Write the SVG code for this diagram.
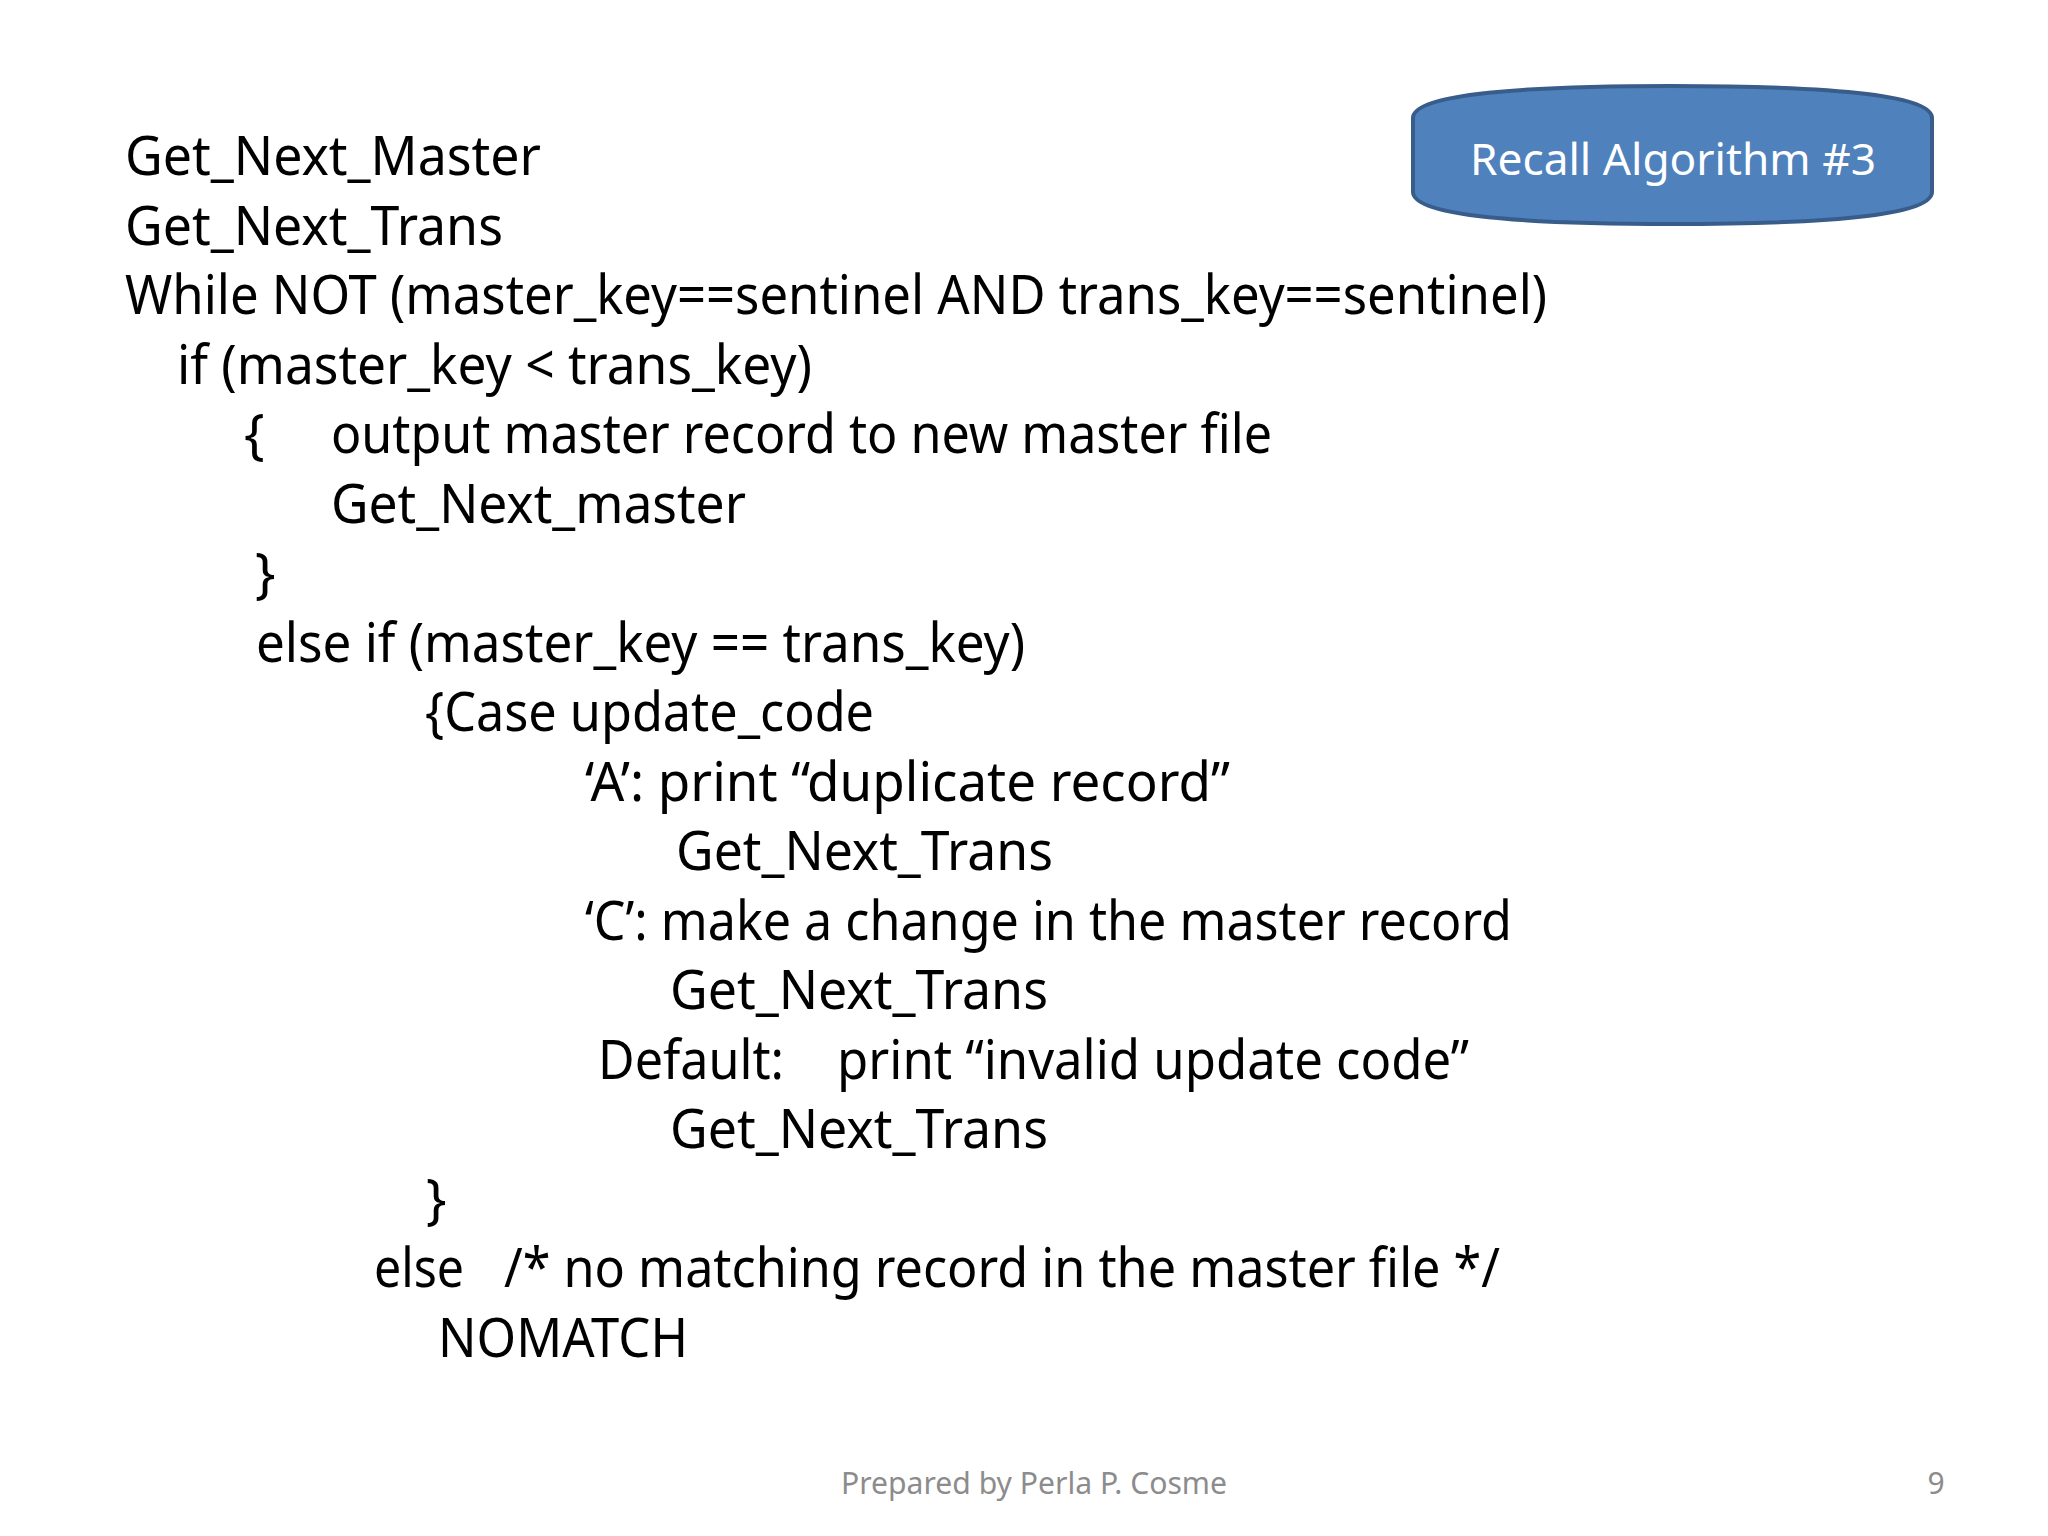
<svg xmlns="http://www.w3.org/2000/svg" width="2048" height="1536" viewBox="0 0 2048 1536">
<style>
.t{font-family:"Noto Sans","Open Sans",sans-serif;font-size:54px;fill:#000}
.b{font-family:"Noto Sans","Open Sans",sans-serif;font-size:44px;fill:#fff}
.f{font-family:"Noto Sans","Open Sans",sans-serif;font-size:30px;fill:#8c8c8c}
</style>
<rect width="2048" height="1536" fill="#fff"/>
<g id="recall">
<path d="M1413,118 Q1413,86 1672,86 Q1932,86 1932,118 V192 Q1932,224 1672,224 Q1413,224 1413,192 Z" fill="#4F81BD" stroke="#385D8A" stroke-width="4"/>
<text class="b" x="1470" y="175" textLength="406" lengthAdjust="spacingAndGlyphs">Recall Algorithm #3</text>
</g>
<g id="code">
<text class="t" x="125" y="175" textLength="416" lengthAdjust="spacingAndGlyphs">Get_Next_Master</text>
<text class="t" x="125" y="245" textLength="378" lengthAdjust="spacingAndGlyphs">Get_Next_Trans</text>
<text class="t" x="125" y="314" textLength="1422" lengthAdjust="spacingAndGlyphs">While NOT (master_key==sentinel AND trans_key==sentinel)</text>
<text class="t" x="177" y="384" textLength="635" lengthAdjust="spacingAndGlyphs">if (master_key &lt; trans_key)</text>
<text class="t" x="244" y="453">{</text>
<text class="t" x="331" y="453" textLength="941" lengthAdjust="spacingAndGlyphs">output master record to new master file</text>
<text class="t" x="331" y="523" textLength="415" lengthAdjust="spacingAndGlyphs">Get_Next_master</text>
<text class="t" x="255" y="592">}</text>
<text class="t" x="256" y="662" textLength="769" lengthAdjust="spacingAndGlyphs">else if (master_key == trans_key)</text>
<text class="t" x="425" y="731" textLength="449" lengthAdjust="spacingAndGlyphs">{Case update_code</text>
<text class="t" x="585" y="801" textLength="645" lengthAdjust="spacingAndGlyphs">‘A’: print “duplicate record”</text>
<text class="t" x="676" y="870" textLength="377" lengthAdjust="spacingAndGlyphs">Get_Next_Trans</text>
<text class="t" x="585" y="940" textLength="927" lengthAdjust="spacingAndGlyphs">‘C’: make a change in the master record</text>
<text class="t" x="670" y="1009" textLength="378" lengthAdjust="spacingAndGlyphs">Get_Next_Trans</text>
<text class="t" x="598" y="1079" textLength="186" lengthAdjust="spacingAndGlyphs">Default:</text>
<text class="t" x="837" y="1079" textLength="632" lengthAdjust="spacingAndGlyphs">print “invalid update code”</text>
<text class="t" x="670" y="1148" textLength="378" lengthAdjust="spacingAndGlyphs">Get_Next_Trans</text>
<text class="t" x="426" y="1218">}</text>
<text class="t" x="374" y="1287" textLength="90" lengthAdjust="spacingAndGlyphs">else</text>
<text class="t" x="504" y="1287" textLength="996" lengthAdjust="spacingAndGlyphs">/* no matching record in the master file */</text>
<text class="t" x="438" y="1357" textLength="250" lengthAdjust="spacingAndGlyphs">NOMATCH</text>
</g>
<g id="footer">
<text class="f" x="1034" y="1494" text-anchor="middle" textLength="386" lengthAdjust="spacingAndGlyphs">Prepared by Perla P. Cosme</text>
<text class="f" x="1936" y="1494" text-anchor="middle">9</text>
</g>
</svg>
